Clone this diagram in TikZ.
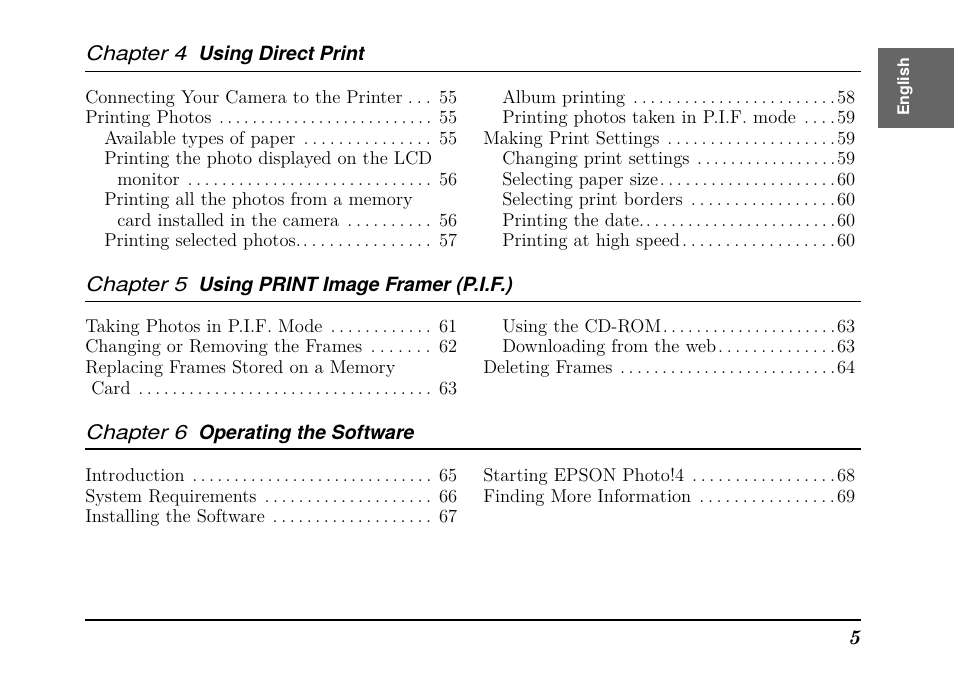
\documentclass[tikz,border=0pt]{standalone}
\usepackage{fontspec}
\newfontfamily\headfont{TeX Gyre Heros}
\newfontfamily\headwide{TeX Gyre Heros}[FakeStretch=1.16]
\definecolor{tabgray}{RGB}{102,102,102}
\newcommand{\tocrow}[3]{\hbox to #1{#2\xleaders\hbox to 6.2pt{\hss.\hss}\hfill#3}}
\tikzset{
  toc/.style={anchor=base west, inner sep=0pt, font=\fontsize{13.9}{16}\selectfont},
  chead/.style={anchor=base west, inner sep=0pt, font=\fontsize{15}{18}\selectfont\itshape},
  rulefine/.style={line width=0.8pt}
}
\begin{document}
\begin{tikzpicture}[x=0.75pt, y=-0.75pt]
		\useasboundingbox (0,0) rectangle (954,681);
		%language tab
		\fill[tabgray] (878,48) rectangle (954,128);
		\node[rotate=90, text=white, font=\headfont\bfseries\fontsize{12}{14}\selectfont] (tab) at (905,87){English};
		
		%chapter 4
		\node[chead] (h4) at (86,61){\headwide Chapter 4\hspace{8.5pt}\headfont\bfseries\fontsize{14.7}{18}\selectfont Using Direct Print};
		\draw[rulefine] (85,71.5) -- (861,71.5);
		\node[toc] (c4a) at (85,103.5){\tocrow{279pt}{Connecting Your Camera to the Printer\,}{\ 55}};
		\node[toc] (c4b) at (85,124){\tocrow{279pt}{Printing Photos\ }{\ 55}};
		\node[toc] (c4c) at (104,144.5){\tocrow{264.75pt}{Available types of paper\ }{\ 55}};
		\node[toc] (c4d) at (104,165){Printing the photo displayed on the LCD};
		\node[toc] (c4e) at (117,185.5){\tocrow{255pt}{monitor\ }{\ 56}};
		\node[toc] (c4f) at (104,206){Printing all the photos from a memory};
		\node[toc] (c4g) at (117,226.5){\tocrow{255pt}{card installed in the camera\ }{\ 56}};
		\node[toc] (c4h) at (104,247){\tocrow{264.75pt}{Printing selected photos.}{\ 57}};
		\node[toc] (c4i) at (502,103.5){\tocrow{264.75pt}{Album printing\ }{58}};
		\node[toc] (c4j) at (502,124){\tocrow{264.75pt}{Printing photos taken in P.I.F. mode\ }{59}};
		\node[toc] (c4k) at (483,144.5){\tocrow{279pt}{Making Print Settings\ }{59}};
		\node[toc] (c4l) at (502,165){\tocrow{264.75pt}{Changing print settings\ }{59}};
		\node[toc] (c4m) at (502,185.5){\tocrow{264.75pt}{Selecting paper size}{60}};
		\node[toc] (c4n) at (502,206){\tocrow{264.75pt}{Selecting print borders\ }{60}};
		\node[toc] (c4o) at (502,226.5){\tocrow{264.75pt}{Printing the date.}{60}};
		\node[toc] (c4p) at (502,247){\tocrow{264.75pt}{Printing at high speed}{60}};
		
		%chapter 5
		\node[chead] (h5) at (86,291.5){\headwide Chapter 5\hspace{8.5pt}\headfont\bfseries\fontsize{14.7}{18}\selectfont Using PRINT Image Framer (P.I.F.)};
		\draw[rulefine] (85,301.5) -- (861,301.5);
		\node[toc] (c5a) at (85,332){\tocrow{279pt}{Taking Photos in P.I.F. Mode\ }{\ 61}};
		\node[toc] (c5b) at (85,352.7){\tocrow{279pt}{Changing or Removing the Frames\ }{\ 62}};
		\node[toc] (c5c) at (85,373.3){Replacing Frames Stored on a Memory};
		\node[toc] (c5d) at (91,394){\tocrow{274.5pt}{Card\ }{\ 63}};
		\node[toc] (c5e) at (502,332){\tocrow{264.75pt}{Using the CD-ROM}{63}};
		\node[toc] (c5f) at (502,352.7){\tocrow{264.75pt}{Downloading from the web}{63}};
		\node[toc] (c5g) at (483,373.3){\tocrow{279pt}{Deleting Frames\ }{64}};
		
		%chapter 6
		\node[chead] (h6) at (86,439){\headwide Chapter 6\hspace{8.5pt}\headfont\bfseries\fontsize{14.7}{18}\selectfont Operating the Software};
		\draw[rulefine] (85,449) -- (861,449);
		\node[toc] (c6a) at (85,481.5){\tocrow{279pt}{Introduction\ }{\ 65}};
		\node[toc] (c6b) at (85,502){\tocrow{279pt}{System Requirements\ }{\ 66}};
		\node[toc] (c6c) at (85,522.5){\tocrow{279pt}{Installing the Software\ }{\ 67}};
		\node[toc] (c6d) at (483,481.5){\tocrow{279pt}{Starting EPSON Photo!4\ }{68}};
		\node[toc] (c6e) at (483,502){\tocrow{279pt}{Finding More Information\ }{69}};
		
		%footer
		\draw[rulefine] (85,620) -- (861,620);
		\node[toc, anchor=base east, font=\fontsize{15.5}{18}\selectfont] (pg) at (861,644){\textbf{\textit{5}}};
\end{tikzpicture}
\end{document}
